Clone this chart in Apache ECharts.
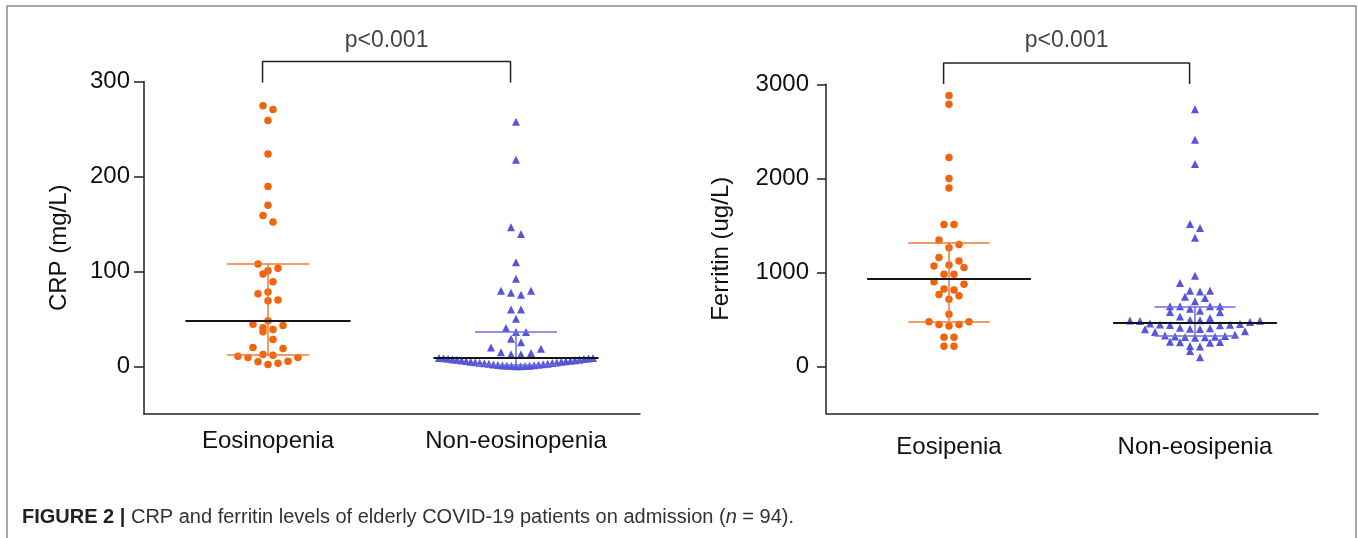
<!DOCTYPE html>
<html><head><meta charset="utf-8">
<script src="https://cdn.jsdelivr.net/npm/echarts@6/dist/echarts.min.js"></script>
<style>html,body{margin:0;padding:0;background:#fff}#c{width:1358px;height:538px}</style>
</head><body><div id="c"></div>
<script>
// ---------------- data ----------------
const crpCategories = ['Eosinopenia', 'Non-eosinopenia'];
const ferCategories = ['Eosipenia', 'Non-eosipenia'];
const crpTicks = [0, 100, 200, 300];
const ferTicks = [0, 1000, 2000, 3000];
const crpAxisName = 'CRP (mg/L)';
const ferAxisName = 'Ferritin (ug/L)';
const pLabels = ['p<0.001', 'p<0.001'];

// CRP (mg/L)
const crpEos = [274.6, 270.4, 259, 223.6, 189.5, 169.8, 158.9, 152.2, 107.9, 103.4, 100.8, 97.4,
  89.2, 78.4, 76.6, 69.9, 69.2, 48.1, 44.6, 43.2, 40.7, 39.0, 36.5, 28.5, 20.0, 19.0, 12.7, 11.9,
  10.9, 9.5, 9.5, 5.6, 4.9, 3.5, 2.1];
const crpNonEos = [257.7, 217.6, 146.6, 139.6, 109.7, 92.4, 79.7, 79.7, 77.6, 75.5, 60, 60, 50.2,
  40.4, 36.2, 36.2, 29.1, 25.6, 20, 18.6, 15.1, 14.3, 13, 13,
  9.0, 8.9, 8.7, 8.4, 8.2, 7.9, 7.5, 7.2, 7.0, 6.6, 6.3, 6.1, 5.8, 5.4, 5.1, 4.9, 4.5, 4.2, 4.0,
  3.7, 3.3, 3.0, 2.8, 2.5, 2.1, 1.9, 1.6, 1.3, 1.1, 0.9, 0.7, 0.5, 0.4, 0.3, 0.2];
// Ferritin (ug/L)
const ferEos = [2880, 2788, 2221, 1998, 1896, 1509, 1509, 1343, 1297, 1261, 1158, 1120, 1078, 1067,
  1052, 978, 978, 900, 872, 822, 812, 765, 751, 712, 553, 475, 475, 446, 446, 429, 308, 308, 213, 213];
const ferNonEos = [2735, 2409, 2151, 1513, 1471, 1368, 964, 886, 805, 805, 797, 741, 727, 691, 638,
  638, 638, 638, 613, 590, 578, 574, 531, 514, 492, 489, 486, 484, 481, 470, 455, 450, 446, 443, 440,
  437, 410, 405, 400, 398, 395, 372, 366, 335, 328, 322, 318, 315, 312, 308, 305, 262, 258, 255, 250,
  215, 210, 164, 96];

// summary lines: [median, lower (Q1), upper (Q3)]
const crpEosSummary = [48.3, 12.3, 108];
const crpNonEosSummary = [8.8, 1.5, 36.2];
const ferEosSummary = [932, 478, 1315];
const ferNonEosSummary = [468, 322, 638];

// bracket levels [bottom, top] and p-label level
const crpBracket = [299, 321, 343];
const ferBracket = [3003, 3226, 3460];

// ---------------- styles ----------------
const FONT = '"Liberation Sans", Arial, Helvetica, sans-serif';
const AX = '#222';
const ORANGE = '#F0640F';
const BLUE = '#5656DC';
const ORANGE_LINE = '#EE7A2E';
const BLUE_LINE = '#6E6EE4';

const chart = echarts.init(document.getElementById('c'), null, {renderer: 'canvas'});

function catAxis(grid, data, margin) {
  return {
    type: 'category', gridIndex: grid, data: data, position: 'bottom',
    axisLine: {onZero: false, lineStyle: {color: AX, width: 1.5}},
    axisTick: {alignWithLabel: true, length: 8, lineStyle: {color: AX, width: 1.5}},
    axisLabel: {fontSize: 24, color: '#111', margin: margin, fontFamily: FONT},
    splitLine: {show: false}
  };
}
function valX(grid) {
  return {type: 'value', gridIndex: grid, min: -0.5, max: 1.5, show: false, splitLine: {show: false}};
}
function valY(grid, min, max, ticks, name, gap, tickLen, margin) {
  return {
    type: 'value', gridIndex: grid, min: min, max: max,
    name: name, nameLocation: 'middle', nameGap: gap,
    nameTextStyle: {fontSize: 24, color: '#111', fontFamily: FONT},
    axisLine: {show: true, onZero: false, lineStyle: {color: AX, width: 1.5}},
    axisTick: {show: true, length: tickLen, customValues: ticks, lineStyle: {color: AX, width: 1.5}},
    axisLabel: {customValues: ticks, fontSize: 24, color: '#111', margin: margin, fontFamily: FONT,
      formatter: v => String(v)},
    splitLine: {show: false}
  };
}

const base = {
  animation: false,
  backgroundColor: '#fff',
  grid: [
    {left: 144, top: 81.5, width: 496, height: 332.5},
    {left: 826, top: 84.3, width: 492, height: 329}
  ],
  xAxis: [catAxis(0, crpCategories, 15), valX(0), catAxis(1, ferCategories, 22), valX(1)],
  yAxis: [
    valY(0, -50, 300, crpTicks, crpAxisName, 73, 10, 14),
    valY(1, -500, 3000, ferTicks, ferAxisName, 93, 9, 17)
  ],
  title: {
    left: 22, top: 507, padding: 0,
    text: '{b|FIGURE 2 |}{r| CRP and ferritin levels of elderly COVID-19 patients on admission (}{i|n}{r| = 94).}',
    textStyle: {
      fontWeight: 'normal',
      rich: {
        b: {fontWeight: 'bold', fontSize: 20, color: '#222', fontFamily: FONT},
        r: {fontWeight: 'normal', fontSize: 20, color: '#333', fontFamily: FONT},
        i: {fontWeight: 'normal', fontSize: 20, color: '#333', fontStyle: 'italic', fontFamily: FONT}
      }
    }
  },
  graphic: [{
    type: 'rect', silent: true,
    shape: {x: 7, y: 6, width: 1349, height: 560},
    style: {fill: 'none', stroke: '#8c8c8c', lineWidth: 1.5}
  }],
  series: []
};
chart.setOption(base);

// ---------- beeswarm layout (column scatter, Prism-like rows) ----------
function swarm(values, xIdx, yIdx, cat, spacingPx, maxHalfPx, rowPx) {
  const pxPerUnit = chart.convertToPixel({xAxisIndex: xIdx}, 1) - chart.convertToPixel({xAxisIndex: xIdx}, 0);
  const sorted = values.slice().sort((a, b) => a - b);
  const rows = [];
  let cur = null;
  sorted.forEach(v => {
    const py = chart.convertToPixel({yAxisIndex: yIdx}, v);
    if (!cur || cur.py0 - py > rowPx) { cur = {py0: py, items: []}; rows.push(cur); }
    cur.items.push(v);
  });
  const out = [];
  rows.forEach(r => {
    const n = r.items.length;
    const s = n > 1 ? Math.min(spacingPx, 2 * maxHalfPx / (n - 1)) : spacingPx;
    r.items.forEach((v, k) => {
      let slot;
      if (n % 2) slot = k === 0 ? 0 : (k % 2 ? (k + 1) / 2 : -k / 2);
      else slot = (k % 2 === 0 ? 1 : -1) * (Math.floor(k / 2) + 0.5);
      out.push([cat + slot * s / pxPerUnit, v]);
    });
  });
  return out;
}

function seg(a, b, color, width) {
  return [{coord: a, lineStyle: {color: color, width: width, type: 'solid'}}, {coord: b}];
}
function summaryLines(cat, sum, color) {
  const [med, lo, hi] = sum;
  const mHalf = 0.333, eHalf = 0.165;
  return [
    seg([cat, lo], [cat, hi], color, 1.5),
    seg([cat - eHalf, hi], [cat + eHalf, hi], color, 1.5),
    seg([cat - eHalf, lo], [cat + eHalf, lo], color, 1.5),
    seg([cat - mHalf, med], [cat + mHalf, med], '#151515', 2)
  ];
}

function groupSeries(values, sum, xIdx, yIdx, cat, symbol, size, color, lineColor) {
  return {
    type: 'scatter', xAxisIndex: xIdx, yAxisIndex: yIdx,
    symbol: symbol, symbolSize: size, itemStyle: {color: color, opacity: 1},
    data: swarm(values, xIdx, yIdx, cat, 10, 77, 8.5),
    z: 3,
    markLine: {
      silent: true, symbol: ['none', 'none'], label: {show: false}, animation: false,
      lineStyle: {type: 'solid'}, emphasis: {disabled: true},
      z: 4, data: summaryLines(cat, sum, lineColor)
    }
  };
}

const bracketShift = -0.022;
function bracketSeries(xIdx, yIdx, lv, text) {
  return [{
    type: 'line', xAxisIndex: xIdx, yAxisIndex: yIdx, clip: false, symbol: 'none',
    lineStyle: {color: AX, width: 1.5}, silent: true,
    data: [[0 + bracketShift, lv[0]], [0 + bracketShift, lv[1]], [1 + bracketShift, lv[1]], [1 + bracketShift, lv[0]]]
  }, {
    type: 'scatter', xAxisIndex: xIdx, yAxisIndex: yIdx, clip: false, symbolSize: 0, silent: true,
    data: [[0.5 + bracketShift, lv[2]]],
    label: {show: true, position: 'inside', formatter: text, fontSize: 23, color: '#111', fontFamily: FONT}
  }];
}

chart.setOption({
  series: [
    groupSeries(crpEos, crpEosSummary, 1, 0, 0, 'circle', 7.5, ORANGE, ORANGE_LINE),
    groupSeries(crpNonEos, crpNonEosSummary, 1, 0, 1, 'triangle', 8, BLUE, BLUE_LINE),
    groupSeries(ferEos, ferEosSummary, 3, 1, 0, 'circle', 7.5, ORANGE, ORANGE_LINE),
    groupSeries(ferNonEos, ferNonEosSummary, 3, 1, 1, 'triangle', 8, BLUE, BLUE_LINE),
    ...bracketSeries(1, 0, crpBracket, pLabels[0]),
    ...bracketSeries(3, 1, ferBracket, pLabels[1])
  ]
});
</script>
</body></html>
